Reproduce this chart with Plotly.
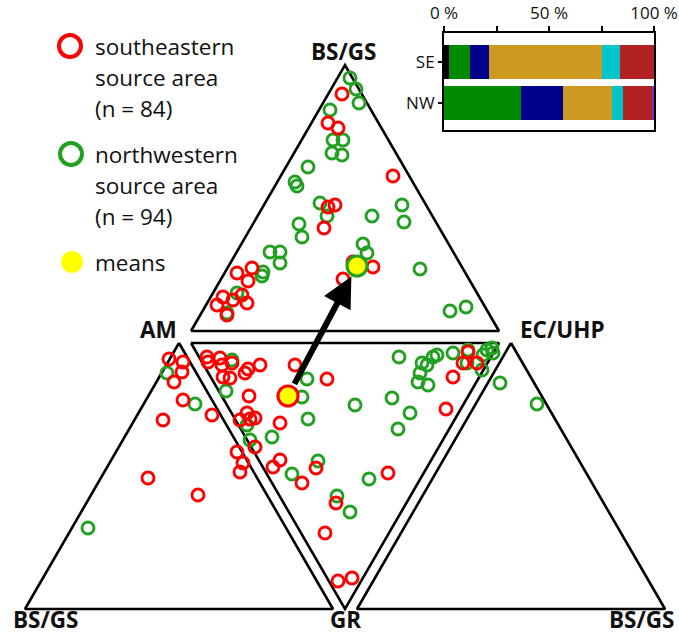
import plotly.graph_objects as go

# ---------------- data (diagram coordinates) ----------------
se_x = [342, 328, 338, 393, 328, 335, 324, 373, 343, 353, 252, 237, 248, 223, 233, 242, 247, 217, 227,
        169, 183, 182, 174, 183, 163, 148, 198, 207, 220, 208, 232, 222, 223, 230, 245, 248, 260, 295,
        327, 249, 212, 247, 240, 250, 255, 280, 255, 237, 243, 240, 273, 280, 302, 316, 336, 325, 338,
        352, 468, 463, 477, 453, 446, 388]
se_y = [94, 123, 128, 176, 207, 205, 228, 267, 279, 262, 268, 273, 281, 297, 300, 295, 303, 305, 315,
        359, 362, 372, 382, 400, 420, 478, 495, 357, 358, 362, 363, 365, 377, 378, 373, 369, 365, 365,
        379, 396, 415, 413, 420, 419, 418, 423, 447, 452, 463, 472, 467, 460, 483, 468, 503, 533, 581,
        578, 352, 363, 363, 377, 409, 473]

nw_x = [350, 356, 359, 330, 333, 343, 332, 342, 308, 295, 297, 320, 327, 299, 302, 363, 367, 372, 402,
        404, 420, 270, 280, 280, 263, 262, 237, 227, 450, 466, 357,
        167, 195, 226, 232, 247, 250, 272, 307, 302, 308, 292, 318, 337, 350, 369, 355, 392, 410, 398,
        399, 422, 427, 433, 420, 418, 428, 453, 468, 467, 487, 492, 493, 483, 482, 437, 88, 500, 537]
nw_y = [78, 89, 103, 110, 140, 140, 153, 155, 167, 182, 186, 203, 216, 224, 237, 244, 253, 216, 205,
        222, 269, 252, 252, 263, 272, 276, 293, 313, 311, 307, 264,
        373, 404, 391, 360, 425, 440, 437, 379, 397, 419, 474, 461, 496, 512, 479, 405, 398, 413, 429,
        357, 363, 365, 357, 373, 382, 385, 353, 350, 363, 350, 348, 353, 355, 370, 355, 528, 383, 404]

mean_se = (288, 396)
mean_nw = (357, 266)

# inset bar chart (percent)
bar_groups = ["SE", "NW"]
seg_black = [2.4, 0.0]
seg_green = [10.0, 36.6]
seg_navy = [9.0, 20.0]
seg_gold = [53.7, 23.3]
seg_cyan = [8.6, 5.5]
seg_red = [16.2, 13.5]
seg_purple = [0.0, 1.0]
pct_ticks = [0, 25, 50, 75, 100]
pct_labels = ["0 %", "", "50 %", "", "100 %"]

# ---------------- geometry ----------------
W, H = 679, 636
triangles = [
    [(191, 331), (345, 65), (499, 331)],
    [(191, 343), (499, 343), (345, 609)],
    [(179, 343), (25, 609), (333, 609)],
    [(511, 343), (357, 609), (665, 609)],
]

fig = go.Figure()

for tri in triangles:
    xs = [p[0] for p in tri] + [tri[0][0]]
    ys = [p[1] for p in tri] + [tri[0][1]]
    fig.add_trace(go.Scatter(x=xs, y=ys, mode="lines", line=dict(color="black", width=2.6),
                             hoverinfo="skip", showlegend=False, cliponaxis=False))

fig.add_trace(go.Scatter(x=nw_x, y=nw_y, mode="markers", showlegend=False,
                         marker=dict(size=12, color="rgba(0,0,0,0)", line=dict(color="#22a022", width=2.9))))
fig.add_trace(go.Scatter(x=se_x, y=se_y, mode="markers", showlegend=False,
                         marker=dict(size=12, color="rgba(0,0,0,0)", line=dict(color="#ff0000", width=2.9))))

# means
fig.add_trace(go.Scatter(x=[mean_nw[0]], y=[mean_nw[1]], mode="markers", showlegend=False,
                         marker=dict(size=20, color="#ffff00", line=dict(color="#22a022", width=3))))
fig.add_trace(go.Scatter(x=[mean_se[0]], y=[mean_se[1]], mode="markers", showlegend=False,
                         marker=dict(size=20, color="#ffff00", line=dict(color="#ff0000", width=3))))

# arrow between means
fig.add_annotation(x=mean_nw[0], y=mean_nw[1], ax=mean_se[0], ay=mean_se[1],
                   xref="x", yref="y", axref="x", ayref="y", text="",
                   showarrow=True, arrowhead=2, arrowwidth=6, arrowsize=1, arrowcolor="black",
                   standoff=12, startstandoff=12)

# legend symbols
fig.add_trace(go.Scatter(x=[70], y=[46], mode="markers", showlegend=False,
                         marker=dict(size=22, color="rgba(0,0,0,0)", line=dict(color="#ff0000", width=4))))
fig.add_trace(go.Scatter(x=[71], y=[154], mode="markers", showlegend=False,
                         marker=dict(size=22, color="rgba(0,0,0,0)", line=dict(color="#22a022", width=4))))
fig.add_trace(go.Scatter(x=[72], y=[262], mode="markers", showlegend=False,
                         marker=dict(size=22, color="#ffff00", line=dict(width=0))))

txt_font = dict(family="Open Sans", size=22.5, color="#111111")
legend_lines = [("southeastern", 46), ("source area", 77), ("(n = 84)", 108),
                ("northwestern", 154), ("source area", 185), ("(n = 94)", 216), ("means", 262)]
for t, yy in legend_lines:
    fig.add_annotation(x=93, y=yy, xref="x", yref="y", text=t, showarrow=False,
                       xanchor="left", yanchor="middle", font=txt_font)

lab_font = dict(family="Open Sans", size=22.5, color="#111111")
labels = [("BS/GS", 344, 51), ("AM", 158, 329), ("EC/UHP", 562, 329),
          ("BS/GS", 46, 619), ("GR", 345, 619), ("BS/GS", 642, 619)]
for t, xx, yy in labels:
    fig.add_annotation(x=xx, y=yy, xref="x", yref="y", text="<b>" + t + "</b>", showarrow=False,
                       xanchor="center", yanchor="middle", font=lab_font)

# inset stacked bars
seg_list = [(seg_black, "#000000"), (seg_green, "#008a00"), (seg_navy, "#00008b"),
            (seg_gold, "#cc9a20"), (seg_cyan, "#00c6cc"), (seg_red, "#b22222"),
            (seg_purple, "#7b2fbe")]
for vals, col in seg_list:
    fig.add_trace(go.Bar(x=vals, y=bar_groups, orientation="h", marker=dict(color=col, line=dict(width=0)),
                         width=0.82, xaxis="x2", yaxis="y2", showlegend=False, hoverinfo="skip"))

fig.update_layout(
    width=W, height=H, margin=dict(l=0, r=0, t=0, b=0, pad=0, autoexpand=False),
    autosize=False,
    plot_bgcolor="white", paper_bgcolor="white", barmode="stack", bargap=0,
    xaxis=dict(range=[0, W], visible=False, domain=[0, 1], automargin=False, fixedrange=True),
    yaxis=dict(range=[H, 0], visible=False, domain=[0, 1], automargin=False, fixedrange=True),
    xaxis2=dict(range=[0, 100], domain=[444 / W, 654 / W], anchor="y2", side="top",
                tickvals=pct_ticks, ticktext=pct_labels, ticks="outside", ticklen=5, tickwidth=2,
                tickcolor="black", showline=True, linecolor="black", linewidth=2, mirror=True,
                showgrid=False, zeroline=False, automargin=False, fixedrange=True,
                tickfont=dict(family="Open Sans", size=17, color="#111111")),
    yaxis2=dict(domain=[1 - 130 / H, 1 - 33 / H], anchor="x2", range=[1.64, -0.70],
                type="category", categoryarray=bar_groups, ticks="outside", ticklen=4, tickwidth=2,
                tickcolor="black", showline=True, linecolor="black", linewidth=2, mirror=True,
                showgrid=False, automargin=False, fixedrange=True,
                tickfont=dict(family="Open Sans", size=17, color="#111111")),
)

fig.write_html("out.html", config={"displayModeBar": False, "staticPlot": True},
               post_script="document.body.style.margin='0px';document.body.style.padding='0px';")
